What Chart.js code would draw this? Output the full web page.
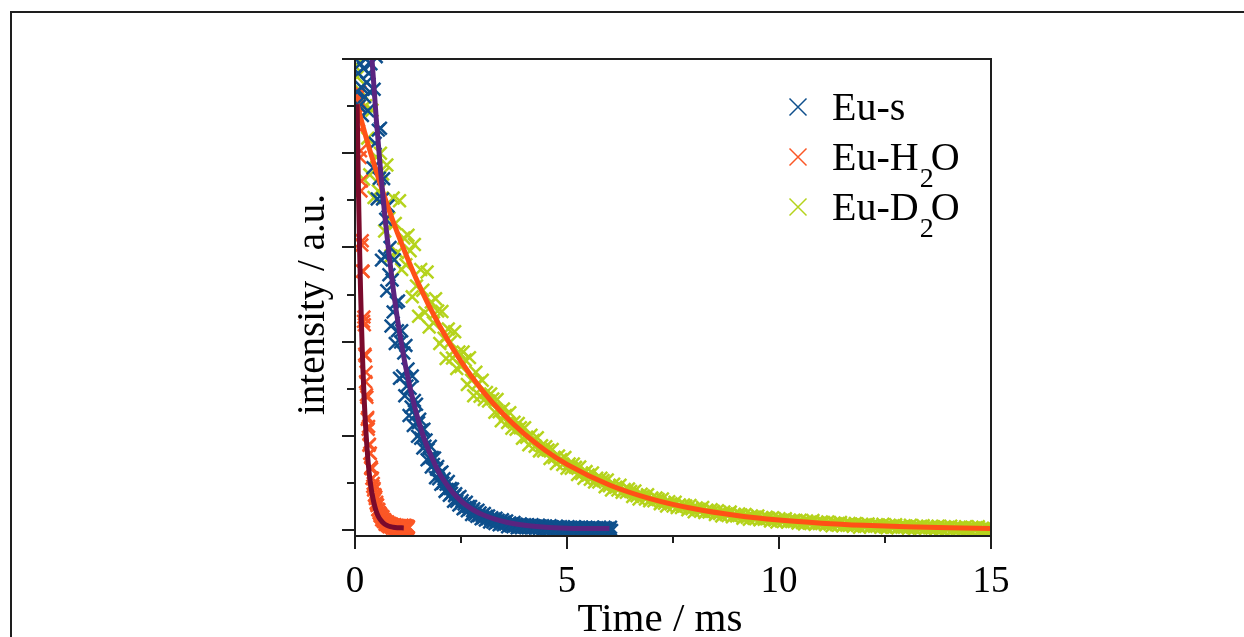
<!DOCTYPE html>
<html>
<head>
<meta charset="utf-8">
<title>Eu luminescence decay</title>
<script src="https://cdn.jsdelivr.net/npm/chart.js@4.4.0/dist/chart.umd.min.js"></script>
<style>
  html, body { margin: 0; padding: 0; background: #fff; }
  #wrap { position: relative; width: 1244px; height: 637px; overflow: hidden; }
  #frame { position: absolute; left: 10px; top: 11px; width: 1300px; height: 700px;
           border-left: 2px solid #1e1e1e; border-top: 2px solid #1e1e1e; }
  #box { position: absolute; left: 0; top: 0; width: 1244px; height: 637px; }
</style>
</head>
<body>
<div id="wrap">
  <div id="frame"></div>
  <div id="box"><canvas id="decay"></canvas></div>
</div>
<script>
// Eu-s decay, sampled every 0.025 ms from 0.05 ms
const esStart = 0.05, esStep = 0.025;
const esIntensity = [
  0.93, 0.97, 0.90, 0.99, 0.94, 0.88, 0.98, 0.92, 1.00, 0.95, 0.89, 0.97, 0.93, 0.99,
  1.037, 0.769, 0.936, 0.821, 1.005, 0.703, 0.849, 0.747, 0.853, 0.573,
  0.703, 0.746, 0.581, 0.660, 0.508, 0.688, 0.542, 0.600, 0.433, 0.531,
  0.463, 0.574, 0.396, 0.483, 0.423, 0.486, 0.322, 0.399, 0.423, 0.327,
  0.376, 0.285, 0.392, 0.306, 0.342, 0.243, 0.301, 0.261, 0.327, 0.222,
  0.275, 0.244, 0.267, 0.199, 0.228, 0.235, 0.195, 0.212, 0.174, 0.214,
  0.178, 0.191, 0.149, 0.171, 0.153, 0.178, 0.134, 0.154, 0.139, 0.153,
  0.111, 0.129, 0.135, 0.109, 0.120, 0.097, 0.123, 0.100, 0.109, 0.082,
  0.097, 0.086, 0.103, 0.074, 0.088, 0.078, 0.087, 0.061, 0.073, 0.077,
  0.061, 0.068, 0.053, 0.071, 0.057, 0.062, 0.045, 0.055, 0.048, 0.059,
  0.041, 0.050, 0.044, 0.050, 0.033, 0.041, 0.045, 0.033, 0.039, 0.029,
  0.042,
  0.031, 0.036, 0.024, 0.031, 0.026, 0.035, 0.021, 0.029, 0.024, 0.030,
  0.017, 0.023, 0.026, 0.017, 0.023, 0.014, 0.025, 0.017, 0.021, 0.011,
  0.018, 0.014, 0.022, 0.011, 0.017, 0.013, 0.019, 0.007, 0.013, 0.015,
  0.009, 0.013, 0.007, 0.016, 0.009, 0.012, 0.005, 0.010, 0.007, 0.013,
  0.005, 0.010, 0.007, 0.011,
  0.005, 0.010, 0.011, 0.006, 0.009, 0.005, 0.011, 0.006, 0.009, 0.004,
  0.008, 0.006, 0.010, 0.003, 0.008, 0.006, 0.009, 0.002, 0.006, 0.008,
  0.003, 0.006, 0.002, 0.009, 0.004, 0.007, 0.001, 0.005, 0.003, 0.008,
  0.001, 0.006, 0.004, 0.007, 0.000, 0.004,
  0.006, 0.001, 0.004, 0.000, 0.007, 0.002, 0.005, 0.000, 0.004, 0.002,
  0.007, 0.000, 0.005, 0.003, 0.006, -0.001, 0.004, 0.006, 0.001, 0.004,
  0.000, 0.006, 0.002, 0.004, -0.001, 0.003, 0.001, 0.006, -0.001, 0.004,
  0.002, 0.005, -0.002, 0.003, 0.005, 0.000, 0.003, -0.001, 0.006, 0.001,
  0.004, -0.001, 0.003, 0.001, 0.006, -0.001
];
const esFitTime  = [0.35, 0.4, 0.5, 0.6, 0.7, 0.8, 0.9, 1.0, 1.2, 1.4, 1.6, 1.8, 2.0, 2.2, 2.4, 2.6, 2.8, 3.0, 3.3, 3.6, 4.0, 4.5, 5.0, 5.5, 6.0];
const esFitValue = [1.069, 1.0, 0.875, 0.766, 0.670, 0.587, 0.513, 0.449, 0.344, 0.264, 0.202, 0.156, 0.119, 0.092, 0.070, 0.054, 0.042, 0.033, 0.023, 0.016, 0.010, 0.006, 0.004, 0.003, 0.003];

// Eu-H2O decay, sampled every 0.01 ms from 0.02 ms
const h2oStart = 0.02, h2oStep = 0.01;
const h2oIntensity = [
  0.86, 0.91, 0.88, 0.93, 0.89, 0.92, 0.87, 0.90, 0.91,
  0.93, 0.791, 0.805, 0.720, 0.741, 0.605, 0.614, 0.550, 0.549, 0.443,
  0.452, 0.436, 0.373, 0.370, 0.315, 0.335, 0.287, 0.282, 0.235, 0.239,
  0.214, 0.220, 0.180, 0.182, 0.163, 0.163, 0.131, 0.134, 0.130, 0.110,
  0.110, 0.093, 0.099, 0.085, 0.088, 0.074, 0.075, 0.067, 0.070, 0.057,
  0.059, 0.052, 0.053, 0.043, 0.044, 0.043, 0.037, 0.036, 0.031, 0.034,
  0.029,
  0.031, 0.022, 0.026, 0.022, 0.028, 0.018, 0.022, 0.018, 0.022,
  0.012, 0.016, 0.018, 0.012, 0.015, 0.010, 0.017, 0.011, 0.014, 0.007,
  0.012, 0.009, 0.014, 0.007, 0.011, 0.008, 0.012, 0.004, 0.009, 0.010,
  0.006, 0.009, 0.004, 0.011, 0.006, 0.009, 0.003, 0.008, 0.005, 0.010,
  0.003, 0.008, 0.006, 0.009, 0.001, 0.006, 0.009, 0.004, 0.007, 0.002,
  0.010, 0.005, 0.008, 0.002, 0.007, 0.004, 0.010, 0.003, 0.007, 0.005,
  0.009, 0.001, 0.006, 0.008, 0.004, 0.007
];
const h2oFitTime  = [0.05, 0.07, 0.09, 0.11, 0.13, 0.15, 0.17, 0.19, 0.21, 0.23, 0.25, 0.28, 0.31, 0.34, 0.37, 0.40, 0.45, 0.50, 0.55, 0.60, 0.70, 0.80, 0.90, 1.00, 1.15];
const h2oFitValue = [0.904, 0.784, 0.680, 0.590, 0.512, 0.445, 0.386, 0.335, 0.291, 0.253, 0.220, 0.178, 0.144, 0.117, 0.095, 0.078, 0.056, 0.040, 0.029, 0.022, 0.0125, 0.008, 0.006, 0.005, 0.0045];

// Eu-D2O decay, sampled every 0.05 ms from 0
const d2oStart = 0, d2oStep = 0.05;
const d2oIntensity = [
  0.985, 0.962, 0.935, 0.905, 0.745, 0.901, 0.832, 0.754, 0.891, 0.706,
  0.792, 0.720, 0.800, 0.756, 0.635, 0.775, 0.662, 0.582, 0.705, 0.651,
  0.589, 0.699, 0.553, 0.620, 0.563, 0.626, 0.593, 0.495, 0.606, 0.518,
  0.454, 0.553, 0.509, 0.462, 0.548, 0.431, 0.484, 0.440, 0.491, 0.465,
  0.396, 0.464, 0.407, 0.364, 0.427, 0.399, 0.365, 0.421, 0.343, 0.378,
  0.347, 0.378, 0.361, 0.309, 0.366, 0.318, 0.285, 0.335, 0.311, 0.284,
  0.318, 0.277, 0.292, 0.274, 0.289, 0.278, 0.250, 0.277, 0.251, 0.232,
  0.257, 0.243, 0.228, 0.249, 0.216, 0.229, 0.214, 0.226, 0.217, 0.195,
  0.217, 0.197, 0.181, 0.201, 0.190, 0.178, 0.196, 0.168, 0.179, 0.168,
  0.177, 0.170, 0.152, 0.171, 0.154, 0.141, 0.157, 0.149, 0.139, 0.154,
  0.131, 0.140, 0.131, 0.140, 0.133, 0.118, 0.134, 0.120, 0.110, 0.124,
  0.117, 0.108, 0.121, 0.102, 0.110, 0.102, 0.110, 0.105, 0.092, 0.106,
  0.094, 0.085, 0.097, 0.091, 0.085, 0.095, 0.080, 0.086, 0.080, 0.087,
  0.082, 0.071, 0.083, 0.073, 0.066, 0.076, 0.072, 0.066, 0.075, 0.062,
  0.068, 0.062, 0.068, 0.065, 0.056, 0.066, 0.057, 0.051, 0.060, 0.056,
  0.051, 0.059, 0.048, 0.053, 0.048, 0.053, 0.051, 0.043, 0.052, 0.045,
  0.039, 0.047, 0.044, 0.040, 0.048, 0.037, 0.042, 0.038, 0.043, 0.040,
  0.033, 0.041, 0.035, 0.030, 0.038, 0.034, 0.031, 0.038, 0.028, 0.033,
  0.030, 0.034, 0.032, 0.025, 0.033, 0.027, 0.023, 0.030, 0.027, 0.024,
  0.030, 0.022, 0.026, 0.023, 0.027, 0.025, 0.019, 0.026, 0.021, 0.017,
  0.024, 0.021, 0.018, 0.024, 0.017, 0.020, 0.018, 0.021, 0.020, 0.015,
  0.021, 0.016, 0.013, 0.019, 0.016, 0.014, 0.020, 0.012, 0.016, 0.014,
  0.017, 0.016, 0.011, 0.017, 0.013, 0.009, 0.015, 0.013, 0.010, 0.016,
  0.009, 0.013, 0.010, 0.014, 0.012, 0.008, 0.014, 0.010, 0.006, 0.012,
  0.010, 0.008, 0.013, 0.007, 0.010, 0.008, 0.011, 0.010, 0.006, 0.012,
  0.007, 0.005, 0.010, 0.008, 0.006, 0.011, 0.005, 0.008, 0.006, 0.009,
  0.008, 0.004, 0.010, 0.006, 0.003, 0.008, 0.006, 0.004, 0.009, 0.004,
  0.007, 0.005, 0.008, 0.006, 0.002, 0.008, 0.004, 0.002, 0.007, 0.005,
  0.003, 0.008, 0.002, 0.005, 0.003, 0.006, 0.005, 0.001, 0.007, 0.003,
  0.001, 0.006, 0.004, 0.002, 0.007, 0.001, 0.004, 0.002, 0.005, 0.004,
  0.000
];
const d2oFitTime  = [0.05, 0.25, 0.5, 0.75, 1, 1.5, 2, 2.5, 3, 3.5, 4, 4.5, 5, 6, 7, 8, 9, 10, 11, 12, 13, 14, 15];
const d2oFitValue = [0.903, 0.837, 0.762, 0.693, 0.631, 0.522, 0.4325, 0.358, 0.2966, 0.2456, 0.2034, 0.1684, 0.1394, 0.0956, 0.0656, 0.045, 0.0308, 0.0211, 0.0145, 0.0099, 0.0068, 0.0047, 0.0032];

// axis ticks
const xMajorTicks = [0, 5, 10, 15];
const xMinorTicks = [2.5, 7.5, 12.5];
const yMajorTicks = [0, 0.2, 0.4, 0.6, 0.8, 1.0];
const yMinorTicks = [0.1, 0.3, 0.5, 0.7, 0.9];

const SERIF = "'Liberation Serif', 'Times New Roman', serif";
const colors = {
  es: '#0e4f8c', esFit: '#5a2480',
  h2o: '#fb5726', h2oFit: '#7a0a2c',
  d2o: '#b5d31c', d2oFit: '#ff5116'
};

function sampled(start, step, values) {
  return values.map((v, i) => ({ x: +(start + i * step).toFixed(3), y: v }));
}
function paired(times, values) {
  return times.map((t, i) => ({ x: t, y: values[i] }));
}

// legend entries; sub pieces are drawn as subscripts
const legendRows = [
  { color: colors.es,  parts: [{ t: 'Eu-s' }] },
  { color: colors.h2o, parts: [{ t: 'Eu-H' }, { t: '2', sub: true }, { t: 'O' }] },
  { color: colors.d2o, parts: [{ t: 'Eu-D' }, { t: '2', sub: true }, { t: 'O' }] }
];

// plot box, outward ticks and axis titles
const axisFrame = {
  id: 'axisFrame',
  afterDatasetsDraw(chart) {
    const { ctx, chartArea: a, scales: { x, y } } = chart;
    ctx.save();
    ctx.strokeStyle = '#1e1e1e';
    ctx.lineWidth = 2;
    ctx.lineCap = 'square';
    ctx.beginPath();
    ctx.rect(a.left, a.top, a.right - a.left, a.bottom - a.top);
    xMajorTicks.forEach(v => {
      const px = Math.round(x.getPixelForValue(v));
      ctx.moveTo(px, a.bottom); ctx.lineTo(px, a.bottom + 12);
    });
    xMinorTicks.forEach(v => {
      const px = Math.round(x.getPixelForValue(v));
      ctx.moveTo(px, a.bottom); ctx.lineTo(px, a.bottom + 6);
    });
    yMajorTicks.forEach(v => {
      const py = Math.round(y.getPixelForValue(v));
      ctx.moveTo(a.left - 12, py); ctx.lineTo(a.left, py);
    });
    yMinorTicks.forEach(v => {
      const py = Math.round(y.getPixelForValue(v));
      ctx.moveTo(a.left - 7, py); ctx.lineTo(a.left, py);
    });
    ctx.stroke();

    ctx.fillStyle = '#000';
    ctx.textBaseline = 'alphabetic';
    ctx.textAlign = 'center';
    ctx.font = '41px ' + SERIF;
    ctx.fillText('Time / ms', (a.left + a.right) / 2 - 13, a.bottom + 95);
    ctx.translate(a.left - 31, (a.top + a.bottom) / 2 + 7);
    ctx.rotate(-Math.PI / 2);
    ctx.font = '39px ' + SERIF;
    ctx.fillText('intensity / a.u.', 0, 0);
    ctx.restore();
  }
};

const legendBox = {
  id: 'legendBox',
  afterDraw(chart) {
    const { ctx, chartArea: a } = chart;
    ctx.save();
    ctx.textBaseline = 'alphabetic';
    ctx.fillStyle = '#000';
    legendRows.forEach((row, i) => {
      const base = a.top + 61 + i * 50;
      const cx = a.left + 443, cy = base - 13;
      ctx.strokeStyle = row.color;
      ctx.lineWidth = 1.5;
      ctx.beginPath();
      ctx.moveTo(cx - 8.5, cy - 8.5); ctx.lineTo(cx + 8.5, cy + 8.5);
      ctx.moveTo(cx + 8.5, cy - 8.5); ctx.lineTo(cx - 8.5, cy + 8.5);
      ctx.stroke();
      let tx = a.left + 477;
      row.parts.forEach(p => {
        if (p.sub) {
          ctx.font = '28px ' + SERIF;
          ctx.fillText(p.t, tx + 1, base + 17);
          tx += ctx.measureText(p.t).width - 2;
        } else {
          ctx.font = '40px ' + SERIF;
          ctx.fillText(p.t, tx, base);
          tx += ctx.measureText(p.t).width;
        }
      });
    });
    ctx.restore();
  }
};

const dataStyle = (color, order) => ({
  showLine: false, pointStyle: 'crossRot', pointRadius: 9, pointBorderWidth: 2.5,
  pointBorderColor: color, pointBackgroundColor: color, borderColor: color, clip: 0, order
});
const fitStyle = (color, order) => ({
  showLine: true, pointRadius: 0, borderWidth: 5, borderColor: color,
  cubicInterpolationMode: 'monotone', clip: 0, order
});

new Chart(document.getElementById('decay'), {
  type: 'scatter',
  data: {
    datasets: [
      { label: 'Eu-s fit',   data: paired(esFitTime, esFitValue),   ...fitStyle(colors.esFit, 0) },
      { label: 'Eu-H2O fit', data: paired(h2oFitTime, h2oFitValue), ...fitStyle(colors.h2oFit, 1) },
      { label: 'Eu-D2O fit', data: paired(d2oFitTime, d2oFitValue), ...fitStyle(colors.d2oFit, 2) },
      { label: 'Eu-s',   data: sampled(esStart, esStep, esIntensity),    ...dataStyle(colors.es, 3) },
      { label: 'Eu-H2O', data: sampled(h2oStart, h2oStep, h2oIntensity), ...dataStyle(colors.h2o, 4) },
      { label: 'Eu-D2O', data: sampled(d2oStart, d2oStep, d2oIntensity), ...dataStyle(colors.d2o, 5) }
    ]
  },
  options: {
    responsive: true,
    maintainAspectRatio: false,
    animation: false,
    devicePixelRatio: 1,
    events: [],
    layout: { padding: { left: 0, top: 59, right: 253, bottom: 0 } },
    plugins: { legend: { display: false }, tooltip: { enabled: false } },
    scales: {
      x: {
        type: 'linear', min: 0, max: 15,
        grid: { display: false, drawTicks: false },
        border: { display: false },
        ticks: {
          stepSize: 5, autoSkip: false, maxRotation: 0, padding: 24,
          color: '#000', font: { family: SERIF, size: 37 }
        },
        afterFit(scale) { scale.height = 101; }
      },
      y: {
        type: 'linear', min: -0.0127, max: 1.0,
        grid: { display: false, drawTicks: false },
        border: { display: false },
        ticks: { display: false },
        afterFit(scale) { scale.width = 355; }
      }
    }
  },
  plugins: [axisFrame, legendBox]
});
</script>
</body>
</html>
